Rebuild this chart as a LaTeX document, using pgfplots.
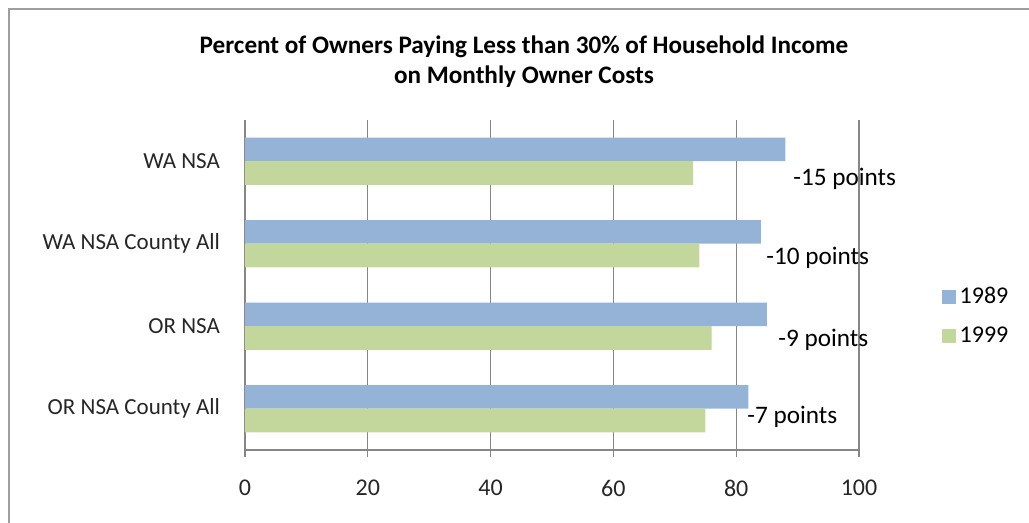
\documentclass[border=0pt]{standalone}
\usepackage{fontspec}
\setmainfont{Carlito}
\usepackage{pgfplots}
\pgfplotsset{compat=1.18}
\definecolor{bar89}{HTML}{95B3D7}
\definecolor{bar99}{HTML}{C3D69B}
\definecolor{gridgray}{HTML}{868686}
\begin{document}
\begin{tikzpicture}
% page bounds (1px = 0.5pt), axis plot area SW at (0,0)
\path[use as bounding box] (-122.5pt,-36.5pt) rectangle (392pt,225pt);
\draw[gridgray!80, line width=0.8pt] (-118pt,-36.5pt) -- (-118pt,220.5pt) -- (392pt,220.5pt);
\node[font=\fontsize{12.6}{15}\selectfont\bfseries, align=center] at (139.5pt,194pt)
  {Percent of Owners Paying Less than 30\% of Household Income\\on Monthly Owner Costs};
\begin{axis}[
  scale only axis,
  width=307pt, height=165pt,
  xmin=0, xmax=100, ymin=-0.5, ymax=3.5,
  xtick={0,20,40,60,80,100},
  ytick={0,1,2,3},
  yticklabels={OR NSA  County All, OR NSA, WA NSA County All, WA NSA},
  minor ytick={-0.5,0.5,1.5,2.5,3.5},
  axis x line*=bottom, axis y line*=left,
  axis line style={gridgray, line width=0.6pt},
  tick align=outside,
  major tick length=3.5pt, minor tick length=3.5pt,
  ytick style={draw=none},
  minor tick style={draw=gridgray, line width=0.6pt},
  xtick style={draw=gridgray, line width=0.6pt},
  xmajorgrids, grid style={gridgray, line width=0.6pt},
  /pgf/number format/assume math mode=true,
  tick label style={text=black!85},
  xticklabel style={font=\fontsize{12}{14}\selectfont, yshift=-8pt},
  yticklabel style={font=\fontsize{11.5}{13}\selectfont, xshift=-5.5pt},
  clip=false,
  legend style={draw=none, fill=none, at={(1.134,0.4045)}, anchor=west,
    font=\fontsize{12}{14}\selectfont, row sep=6pt, inner sep=0pt,
    legend cell align=left},
  legend image code/.code={\fill[#1] (0pt,-3.5pt) rectangle (7pt,3.5pt);},
]
\addplot[xbar, bar width=0.285, bar shift=0.1425, fill=bar89, draw=none]
  coordinates {(82,0) (85,1) (84,2) (88,3)};
\addlegendentry{1989}
\addplot[xbar, bar width=0.285, bar shift=-0.1425, fill=bar99, draw=none]
  coordinates {(75,0) (76,1) (74,2) (73,3)};
\addlegendentry{1999}
\node[anchor=west, font=\fontsize{12.6}{15}\selectfont, inner sep=0pt] at (axis cs:89.25,2.79) {-15 points};
\node[anchor=west, font=\fontsize{12.6}{15}\selectfont, inner sep=0pt] at (axis cs:84.85,1.83) {-10 points};
\node[anchor=west, font=\fontsize{12.6}{15}\selectfont, inner sep=0pt] at (axis cs:86.8,0.84) {-9 points};
\node[anchor=west, font=\fontsize{12.6}{15}\selectfont, inner sep=0pt] at (axis cs:81.76,-0.1) {-7 points};
\end{axis}
\end{tikzpicture}
\end{document}
